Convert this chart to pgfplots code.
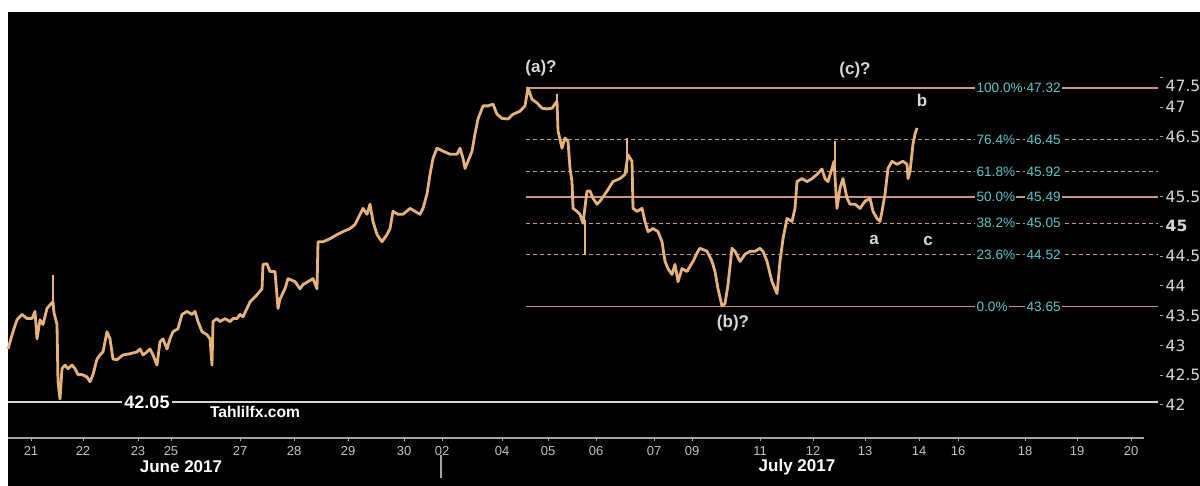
\documentclass[border=0pt]{standalone}
\usepackage{pgfplots}
\pgfplotsset{compat=1.18}
\usepackage{fontspec}
\setmainfont{Liberation Sans}
\newfontfamily\dejavu{DejaVu Sans}
\definecolor{candle}{RGB}{230,178,122}
\definecolor{fib}{RGB}{200,150,130}
\definecolor{fibtxt}{RGB}{85,200,205}
\definecolor{axisgray}{RGB}{165,165,165}
\definecolor{lbl}{RGB}{215,215,215}

\begin{document}
\begin{tikzpicture}
% white margin and black chart field (1px = 0.5pt)
\useasboundingbox (-4pt,-24pt) rectangle (596pt,219pt);
\fill[white] (-4pt,-24pt) rectangle (596pt,219pt);
\fill[black] (0pt,-24pt) rectangle (596pt,213pt);
\begin{axis}[
    at={(0,0)}, anchor=south west,
    scale only axis, width=576pt, height=213pt,
    xmin=8, xmax=1160, ymin=41.446, ymax=48.596,
    clip=false,
    axis line style={draw=none},
    xtick pos=bottom, ytick pos=right, yticklabel pos=right,
    tick align=outside, major tick length=1.5pt,
    tick style={axisgray, line width=0.5pt},
    xtick={31,83,138,171,240,294,348,404,442,502,548,596,654,692,760,813,865,919,958,1025,1077,1131},
    xticklabels={21,22,23,25,27,28,29,30,02,04,05,06,07,09,11,12,13,14,16,18,19,20},
    x tick label style={font=\fontsize{6.5}{7}\selectfont, text=lbl!90!black, yshift=1pt},
    ytick={42,42.5,43,43.5,44,44.5,45,45.5,46.5,47},
    yticklabels={42,42.5,43,43.5,44,44.5,\textbf{45},45.5,46.5,47},
    y tick label style={font=\dejavu\fontsize{7.8}{9}\selectfont, text=lbl, xshift=-2.2pt},
    extra y ticks={47.5}, extra y tick labels={47.5},
    extra y tick style={tick label style={yshift=-4.5pt}},
]
% x axis line
\draw[axisgray, line width=0.6pt] (axis cs:8,41.446) -- (axis cs:1144,41.446);
\draw[axisgray, line width=0.6pt] (axis cs:441,41.16) -- (axis cs:441,40.775);

% low line 42.05
\addplot[lbl, line width=0.6pt] coordinates {(8,42.05) (1158,42.05)};

% fibonacci levels
\addplot[fib, line width=0.6pt] coordinates {(526,47.32) (1158,47.32)};
\addplot[fib, line width=0.6pt, dash pattern=on 2pt off 1.5pt] coordinates {(526,46.45) (1158,46.45)};
\addplot[fib, line width=0.6pt, dash pattern=on 2pt off 1.5pt] coordinates {(526,45.92) (1158,45.92)};
\addplot[fib, line width=0.6pt] coordinates {(526,45.49) (1158,45.49)};
\addplot[fib, line width=0.6pt, dash pattern=on 2pt off 1.5pt] coordinates {(526,45.05) (1158,45.05)};
\addplot[fib, line width=0.6pt, dash pattern=on 2pt off 1.5pt] coordinates {(526,44.52) (1158,44.52)};
\addplot[fib, line width=0.6pt] coordinates {(526,43.65) (1158,43.65)};

% wicks
\addplot[candle, line width=0.6pt] coordinates {(53,43.70) (53,44.19)};
\addplot[candle, line width=0.6pt] coordinates {(557,47.00) (557,47.22)};
\addplot[candle, line width=0.6pt] coordinates {(585,45.10) (585,44.52)};
\addplot[candle, line width=0.6pt] coordinates {(627,45.90) (627,46.48)};
\addplot[candle, line width=0.6pt] coordinates {(835,46.00) (835,46.43)};

% price
\addplot[candle, line width=1.4pt, line join=round] coordinates {
(8,42.94) (13,43.23) (17,43.43) (22,43.52) (27,43.45) (32,43.45) (35,43.57) (37,43.11) (40,43.43) (43,43.35)
(47,43.62) (50,43.68) (53,43.73) (54,43.55) (57,43.35) (58,42.39) (60,42.10) (62,42.61) (65,42.67) (68,42.61)
(72,42.67) (75,42.61) (78,42.51) (82,42.51) (87,42.47) (90,42.39) (93,42.51) (97,42.77) (100,42.84) (103,42.89)
(107,43.23) (110,43.11) (113,42.77) (117,42.76) (123,42.84) (130,42.86) (137,42.89) (140,42.94) (143,42.84) (147,42.89)
(150,42.94) (153,42.84) (157,42.67) (160,43.06) (163,43.11) (167,42.94) (170,43.11) (173,43.23) (178,43.28) (182,43.52)
(187,43.57) (192,43.52) (195,43.57) (198,43.40) (202,43.23) (207,43.18) (210,43.11) (212,42.67) (213,43.40) (217,43.45)
(220,43.40) (225,43.45) (230,43.40) (233,43.45) (237,43.45) (240,43.52) (243,43.48) (247,43.62) (250,43.73)
(257,43.85) (262,43.95) (263,44.36) (267,44.37) (270,44.24) (275,44.24) (278,43.62) (280,43.78) (285,43.95) (288,44.12)
(295,44.07) (300,43.95) (303,44.02) (308,44.07) (313,44.12) (317,43.95) (318,44.74) (323,44.74) (330,44.79) (337,44.86)
(343,44.91) (350,44.96) (355,45.03) (358,45.13) (363,45.30) (367,45.20) (370,45.37) (373,45.08) (377,44.86) (382,44.74)
(387,44.86) (390,44.96) (393,45.25) (398,45.20) (403,45.20) (410,45.30) (415,45.25) (420,45.20) (423,45.30) (427,45.54)
(430,45.87) (433,46.14) (437,46.31) (443,46.26) (450,46.21) (457,46.21) (460,46.31) (463,46.14) (465,45.97) (468,46.09)
(472,46.26) (475,46.55) (478,46.80)
(483,47.02) (488,47.02) (493,47.05) (497,46.88) (502,46.81) (508,46.80) (513,46.88) (520,46.93) (525,47.02) (528,47.32)
(532,47.13) (537,47.07) (542,46.98) (547,46.97) (552,46.98) (557,47.10) (558,46.60) (562,46.31) (565,46.48) (568,46.43)
(570,45.97) (572,45.75) (573,45.30) (577,45.25) (580,45.20) (583,45.05) (587,45.59) (590,45.59) (593,45.47) (597,45.37)
(600,45.42) (607,45.59) (613,45.75) (620,45.80) (625,45.87) (628,46.20) (632,46.09) (633,45.30) (637,45.25) (642,45.30)
(645,45.08) (648,44.91) (653,44.96) (658,44.91) (662,44.74) (665,44.41) (668,44.29) (672,44.19) (675,44.36) (678,44.07)
(682,44.29) (687,44.24) (693,44.41) (698,44.58)
(700,44.63) (707,44.58) (712,44.41) (715,44.24) (718,43.95) (722,43.66) (725,43.70) (728,44.02) (732,44.63) (735,44.58)
(740,44.41) (745,44.53) (750,44.58) (755,44.58) (760,44.63) (763,44.58) (767,44.41) (772,44.07) (777,43.87) (780,44.41)
(783,44.79) (787,45.13) (792,45.08) (795,45.30) (797,45.75) (802,45.80) (807,45.75) (812,45.80) (817,45.87) (822,45.96)
(825,45.80) (828,45.75) (832,45.97) (834,46.09) (837,45.30) (840,45.64) (843,45.80) (847,45.47) (850,45.37) (855,45.37)
(860,45.30) (865,45.42) (870,45.47) (873,45.25) (877,45.13) (880,45.08) (882,45.25) (885,45.54) (888,45.97) (892,46.09)
(897,46.04) (903,46.09) (907,46.04) (908,45.80) (910,45.92) (913,46.38) (915,46.55) (917,46.65)
};

% fib labels
\begin{scope}[every node/.style={font=\fontsize{6.8}{8}\selectfont, text=fibtxt, fill=black, inner sep=0.6pt, anchor=west}]
\node at (axis cs:975,47.32) {100.0\%}; \node at (axis cs:1025,47.32) {47.32};
\node at (axis cs:975,46.45) {76.4\%};  \node at (axis cs:1025,46.45) {46.45};
\node at (axis cs:975,45.92) {61.8\%};  \node at (axis cs:1025,45.92) {45.92};
\node at (axis cs:975,45.49) {50.0\%};  \node at (axis cs:1025,45.49) {45.49};
\node at (axis cs:975,45.05) {38.2\%};  \node at (axis cs:1025,45.05) {45.05};
\node at (axis cs:975,44.52) {23.6\%};  \node at (axis cs:1025,44.52) {44.52};
\node at (axis cs:975,43.65) {0.0\%};   \node at (axis cs:1025,43.65) {43.65};
\end{scope}

% wave labels
\begin{scope}[every node/.style={font=\bfseries\fontsize{8.5}{10}\selectfont, text=lbl}]
\node at (axis cs:541,47.66) {(a)?};
\node at (axis cs:855,47.62) {(c)?};
\node at (axis cs:922,47.12) {b};
\node at (axis cs:874,44.77) {a};
\node at (axis cs:928,44.75) {c};
\node at (axis cs:733,43.38) {(b)?};
\end{scope}

\node[font=\bfseries\fontsize{9}{10}\selectfont, text=white, fill=black, inner sep=1pt] at (axis cs:147,42.05) {42.05};
\node[font=\bfseries\fontsize{7.8}{9}\selectfont, text=white] at (axis cs:255,41.88) {Tahlilfx.com};
\node[font=\bfseries\fontsize{8.5}{10}\selectfont, text=white] at (axis cs:181,40.96) {June 2017};
\node[font=\bfseries\fontsize{8.5}{10}\selectfont, text=white] at (axis cs:797,40.96) {July 2017};
\end{axis}
\end{tikzpicture}
\end{document}
